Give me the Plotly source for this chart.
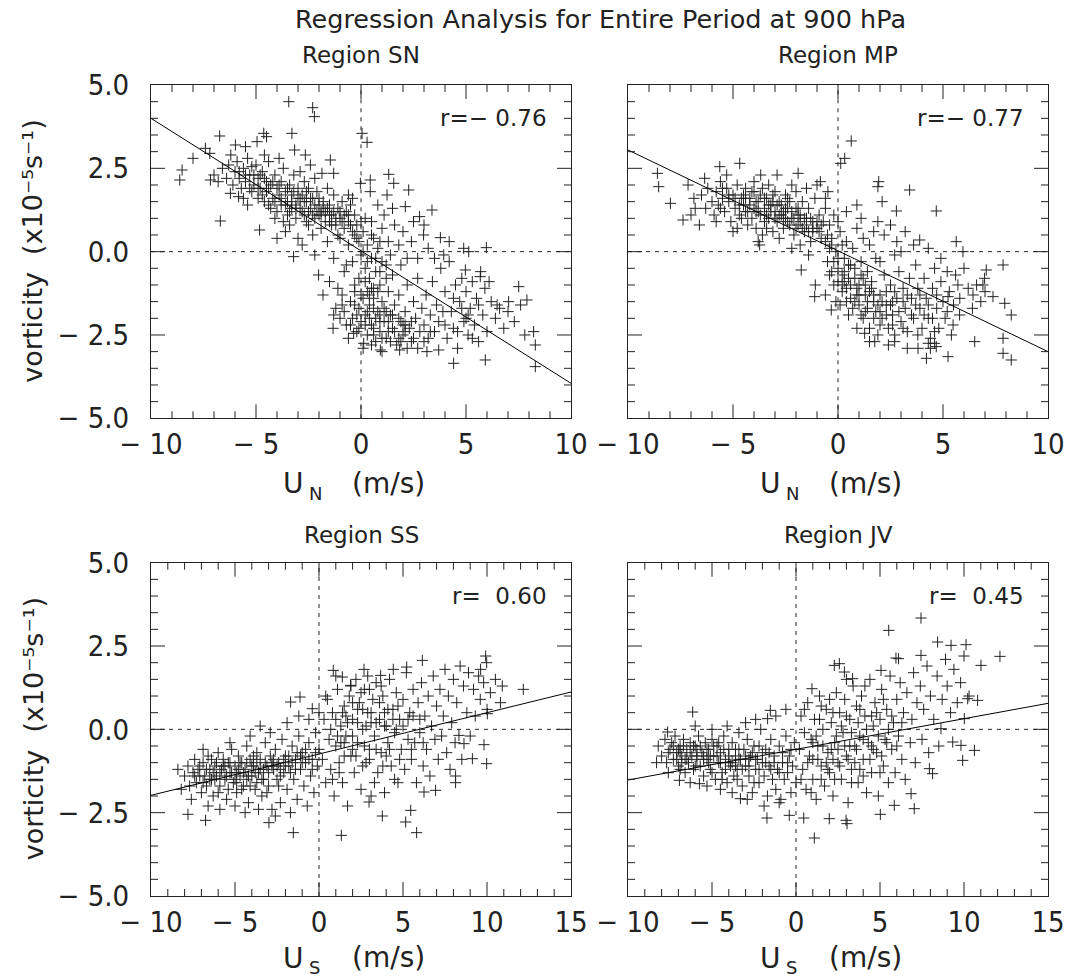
import plotly.graph_objects as go

# ---------------- data ----------------
main_title = "Regression Analysis for Entire Period at 900 hPa"
panel_titles = ["Region SN", "Region MP", "Region SS", "Region JV"]
r_labels = ["r=\u2212 0.76", "r=\u2212 0.77", "r=  0.60", "r=  0.45"]
x_subscripts = ["N", "N", "S", "S"]
x_unit = "(m/s)"
y_title = "vorticity  (x10\u207b\u2075s\u207b\u00b9)"

xn_range = [-10, 10]
xs_range = [-10, 15]
y_range = [-5, 5]
xn_tickvals = [-10, -5, 0, 5, 10]
xn_ticktext = ["\u2212 10", "\u2212 5", "0", "5", "10"]
xs_tickvals = [-10, -5, 0, 5, 10, 15]
xs_ticktext = ["\u2212 10", "\u2212 5", "0", "5", "10", "15"]
y_tickvals = [-5, -2.5, 0, 2.5, 5]
y_ticktext = ["\u2212 5.0", "\u2212 2.5", "0.0", "2.5", "5.0"]
x_minor_step = 1.0
y_minor_step = 0.5

# regression line end points (u, vorticity)
sn_fit_u = [-10, 10]
sn_fit_v = [4.0, -3.95]
mp_fit_u = [-10, 10]
mp_fit_v = [3.05, -3.0]
ss_fit_u = [-10, 15]
ss_fit_v = [-1.98, 1.12]
jv_fit_u = [-10, 15]
jv_fit_v = [-1.52, 0.78]

sn_points = [
    (-3.44,4.5),(-2.3,4.32),(-2.22,4.05),(-3.29,3.55),(0.05,3.55),(0.29,3.28),(-4.63,3.55),(-4.5,3.45),
    (-6.73,3.47),(-7.41,3.1),(-7.2,2.95),(-8.0,2.8),(-8.52,2.45),(-8.63,2.15),(-7.17,2.15),(-7.0,2.3),
    (-6.7,0.92),(-4.83,0.65),(-5.98,3.2),(-5.5,3.15),(-4.95,3.3),(-3.16,3.05),(-2.65,2.9),(-1.46,2.75),
    (-2.41,2.6),(-1.86,2.35),(-1.3,2.35),(-0.03,2.05),(0.44,2.15),(1.32,2.32),(1.56,2.05),(2.27,1.85),
    (0.44,1.8),(1.24,1.7),(2.11,1.35),(3.38,1.25),(2.79,1.05),(3.78,0.42),(2.98,0.5),(4.89,0.1),
    (5.97,0.12),(3.94,-0.1),(5.13,0.0),(4.97,-0.55),(5.68,-0.75),(7.51,-1.05),(7.9,-1.45),(7.03,-1.5),
    (6.48,-1.6),(8.22,-2.4),(8.3,-2.8),(8.3,-3.45),(5.92,-3.25),(4.41,-3.35),(3.14,-3.0),(3.7,-2.95),
    (1.84,-2.95),(0.92,-2.95),(0.13,-2.75),(-0.35,-2.45),(-1.33,-2.3),(-1.81,-1.3),(-2.02,-0.7),
    (-3.21,-0.15),(-4.0,0.4),(-6.22,1.75),(-5.83,1.65),
    (-6.6,2.5),(-6.4,2.2),(-6.3,2.6),(-6.1,2.0),(-6.0,2.4),(-5.9,2.7),(-5.8,2.2),(-5.7,1.9),(-5.6,2.5),
    (-5.5,2.1),(-5.4,2.8),(-5.3,2.3),(-5.2,1.8),(-5.1,2.0),(-5.0,2.6),(-4.9,2.2),(-4.9,1.6),(-4.8,1.9),
    (-4.7,2.4),(-4.6,1.5),(-4.5,2.1),(-4.5,1.8),(-4.4,2.7),(-4.3,1.3),(-4.3,2.0),(-4.2,1.6),(-4.1,2.3),
    (-4.0,1.9),(-4.0,1.2),(-3.9,1.7),(-3.8,2.1),(-3.8,1.4),(-3.7,2.5),(-3.6,1.8),(-3.5,1.1),(-3.5,1.5),
    (-3.4,2.0),(-3.3,1.7),(-3.3,1.3),(-3.2,2.3),(-3.1,1.0),(-3.0,1.6),(-3.0,1.9),(-2.9,1.3),(-2.8,1.7),
    (-2.7,2.1),(-2.7,1.1),(-2.6,1.5),(-2.5,0.8),(-2.5,1.9),(-2.4,1.3),(-2.3,1.6),(-2.2,1.0),(-2.1,1.8),
    (-2.0,1.4),(-2.0,1.1),(-1.9,0.7),(-1.8,1.5),(-1.7,1.2),(-1.6,1.9),(-1.5,0.9),(-1.5,1.4),(-1.4,1.1),
    (-1.3,1.7),(-1.2,0.8),(-1.1,1.3),(-1.0,1.0),(-0.9,1.5),(-0.8,0.7),(-0.7,1.2),(-0.6,0.9),(-0.5,1.4),
    (-0.4,0.6),(-0.3,1.1),(-0.2,0.8),(-4.6,2.9),(-5.2,2.55),(-3.9,2.8),(-2.3,0.5),(-3.0,0.4),(-3.6,0.6),
    (-2.8,0.2),(-2.2,-0.1),(-1.6,0.3),(-1.3,-0.2),(-1.0,0.4),(-0.7,-0.4),(-5.4,1.4),(-4.1,1.0),(-3.4,0.8),
    (-6.8,2.1),(-6.2,2.9),(-5.6,1.6),(-4.4,1.4),(-3.7,0.9),(-2.9,2.4),(-2.2,2.2),(-1.9,1.2),(-1.1,0.5),
    (-0.6,1.7),(-3.1,1.4),(-4.8,2.3),(-5.3,1.9),(-2.6,0.9),
    (-5.8,2.4),(-5.5,2.3),(-5.1,2.3),(-4.9,1.9),(-4.7,1.7),(-4.6,2.2),(-4.4,1.9),(-4.2,2.1),(-4.1,1.5),
    (-3.9,2.0),(-3.8,1.6),(-3.6,1.4),(-3.5,1.9),(-3.4,1.2),(-3.3,1.5),(-3.2,1.8),(-3.1,1.3),(-2.9,1.6),
    (-2.8,1.2),(-2.7,1.5),(-2.6,1.8),(-2.5,1.2),(-2.4,1.6),(-2.3,1.1),(-2.2,1.4),(-2.1,1.2),(-2.0,1.6),
    (-1.9,1.1),(-1.8,1.3),(-1.7,0.9),(-1.6,1.3),(-1.5,1.1),(-1.4,0.8),(-1.3,1.2),(-1.2,1.0),(-1.0,1.2),
    (-0.9,0.9),(-0.8,1.1),(-0.6,1.1),(-0.5,0.8),(-0.3,0.5),(-0.1,0.3),(0.1,0.0),(0.3,-0.3),(0.5,0.5),
    (0.7,-0.2),(0.9,0.3),
    (-0.6,0.2),(-0.4,-0.3),(-0.2,0.4),(0.0,-0.1),(0.1,0.6),(0.2,-0.5),(0.3,0.2),(0.4,-0.8),(0.5,0.9),
    (0.5,-0.2),(0.6,0.4),(0.7,-0.6),(0.8,0.1),(0.9,-1.0),(1.0,0.7),(1.0,-0.3),(1.1,1.1),(1.2,-0.8),
    (1.3,0.3),(1.4,-0.1),(0.2,1.0),(-0.1,-0.8),(0.3,-1.2),(0.6,-1.4),(-0.3,-1.0),(-0.8,-0.6),(1.6,0.8),
    (1.8,0.2),(1.9,-0.4),(2.0,0.6),(2.2,-0.2),(1.5,1.3),(0.8,1.4),(-0.4,1.6),(0.0,0.9),(-1.1,-1.1),
    (-0.9,-1.6),(-1.5,-0.9),
    (-1.0,-2.0),(-0.8,-1.8),(-0.7,-2.2),(-0.5,-1.5),(-0.4,-2.0),(-0.3,-1.2),(-0.2,-2.4),(-0.1,-1.7),
    (0.0,-2.1),(0.1,-1.4),(0.2,-1.9),(0.3,-2.5),(0.4,-1.6),(0.5,-2.2),(0.6,-1.1),(0.7,-2.7),(0.8,-1.8),
    (0.9,-2.4),(1.0,-1.5),(1.1,-2.1),(1.2,-2.6),(1.3,-1.2),(1.4,-1.9),(1.5,-2.3),(1.6,-1.6),(1.7,-2.8),
    (1.8,-1.3),(1.9,-2.1),(2.0,-2.5),(2.1,-1.8),(2.2,-1.0),(2.3,-2.3),(2.4,-2.7),(2.5,-1.5),(2.6,-2.0),
    (2.7,-0.8),(2.8,-2.4),(2.9,-1.7),(3.0,-2.2),(3.1,-1.3),(3.2,-2.6),(3.3,-1.9),(3.4,-0.9),(3.5,-2.4),
    (3.6,-1.6),(3.7,-2.1),(0.1,-2.9),(0.5,-2.8),(1.0,-3.0),(-0.6,-2.6),(-1.2,-1.7),(-1.3,-1.9),
    (-0.9,-1.3),(1.5,-0.7),(1.2,-0.4),(0.9,-0.6),(0.2,-2.2),(0.7,-2.0),(1.3,-2.4),(1.8,-2.6),(0.4,-1.3),
    (1.1,-1.7),(2.1,-2.2),(2.5,-2.6),(-0.2,-1.9),(0.6,-2.5),
    (0.2,-0.9),(0.5,-1.1),(0.8,-1.2),(0.0,-1.3),(-0.3,-1.6),(0.3,-1.8),(0.6,-1.7),(0.9,-1.9),(1.2,-1.8),
    (1.5,-1.9),(1.8,-2.0),(2.1,-2.4),(2.4,-2.1),(0.4,-2.0),(0.9,-2.1),(1.3,-2.1),(1.6,-2.4),(2.0,-2.2),
    (1.0,-2.6),(0.6,-2.3),(-0.1,-2.3),(-0.5,-2.2),(1.4,-2.7),(1.9,-2.7),(2.2,-2.9),(2.7,-2.9),(3.0,-2.7),
    (3.3,-2.4),(4.0,-2.2),(4.6,-2.4),(5.0,-2.0),(5.3,-2.6),(4.8,-1.7),(4.4,-1.4),(3.9,-1.8),(5.6,-1.6),
    (5.1,-1.9),
    (3.8,-0.5),(4.0,-1.2),(4.1,-2.6),(4.2,-0.3),(4.3,-1.8),(4.4,-2.3),(4.5,-1.0),(4.6,-2.9),(4.7,-1.5),
    (4.8,-0.8),(4.9,-2.1),(5.0,-1.2),(5.1,-2.5),(5.2,-1.7),(5.3,-0.9),(5.4,-2.2),(5.5,-1.4),(5.6,-2.7),
    (5.7,-0.6),(5.8,-1.9),(5.9,-1.1),(6.0,-2.4),(6.2,-1.5),(6.4,-2.0),(6.6,-1.7),(6.8,-2.3),(7.0,-1.8),
    (7.3,-2.1),(7.6,-1.6),(7.8,-2.5),(6.1,-0.9),(3.2,0.1),(3.5,-0.2),(4.2,0.3),(2.5,0.9),(2.4,0.3),
    (3.0,0.8),(2.7,-0.2),
]

mp_points = [
    (0.63,3.32),(0.32,2.8),(0.13,2.65),(1.94,2.1),(1.9,1.95),(3.41,1.85),(4.68,1.22),(2.78,1.22),
    (-8.6,2.35),(-8.54,1.95),(-7.98,1.45),(-7.38,0.95),(-7.14,2.0),(-6.86,1.6),(-6.35,2.2),(-5.63,2.55),
    (-4.68,2.65),(-1.9,2.35),(-3.68,2.3),(-0.84,2.1),(-0.48,1.8),(-3.73,0.2),(-1.75,-0.55),(-1.08,-1.0),
    (-1.11,-1.35),(-0.32,-1.75),(1.27,-2.45),(1.75,-2.7),(2.7,-2.7),(3.81,-2.9),(4.21,-3.2),(5.24,-3.15),
    (4.68,-2.85),(6.51,-2.7),(7.86,-2.6),(7.86,-3.05),(8.25,-3.25),(8.25,-1.9),(7.94,-1.55),(7.38,-1.35),
    (7.86,-0.4),(7.06,-0.55),(6.98,-0.8),(6.9,-1.0),(5.63,0.3),(5.95,0.0),(3.89,0.35),(6.43,-1.3),
    (5.71,-1.0),(5.24,-1.35),(5.79,-1.9),(5.48,-2.2),
    (-6.5,1.7),(-6.3,1.3),(-6.2,1.9),(-6.0,1.5),(-5.9,1.1),(-5.8,1.8),(-5.7,1.4),(-5.6,2.1),(-5.5,1.6),
    (-5.4,1.2),(-5.3,1.9),(-5.2,1.5),(-5.1,0.9),(-5.0,1.7),(-4.9,1.3),(-4.8,2.0),(-4.7,1.1),(-4.6,1.6),
    (-4.5,1.4),(-4.4,1.9),(-4.3,0.8),(-4.3,1.2),(-4.2,1.6),(-4.1,1.0),(-4.0,1.8),(-4.0,1.3),(-3.9,0.7),
    (-3.8,1.5),(-3.7,1.1),(-3.6,1.9),(-3.5,1.3),(-3.5,0.9),(-3.4,1.6),(-3.3,1.0),(-3.2,1.4),(-3.1,0.6),
    (-3.0,1.8),(-3.0,1.2),(-2.9,0.9),(-2.8,1.5),(-2.7,1.1),(-2.6,0.7),(-2.5,1.7),(-2.5,1.3),(-2.4,0.9),
    (-2.3,1.5),(-2.2,1.0),(-2.1,0.5),(-2.0,1.3),(-2.0,1.8),(-1.9,0.8),(-1.8,1.1),(-1.7,1.5),(-1.6,0.6),
    (-1.5,1.0),(-1.4,1.3),(-1.3,0.3),(-1.2,0.9),(-1.1,1.6),(-1.0,0.7),(-0.9,1.1),(-0.8,0.4),(-0.7,0.9),
    (-0.6,1.3),(-0.5,0.5),(-0.4,0.8),(-0.3,0.2),(-0.2,1.1),(-5.8,0.9),(-4.8,0.7),(-3.8,0.3),(-2.8,0.4),
    (-2.2,0.1),(-1.8,0.2),(-1.4,-0.1),(-4.0,2.1),(-3.3,2.0),(-2.2,2.0),(-1.5,1.9),(-1.0,2.0),(-0.6,1.6),
    (-6.8,1.3),(-7.0,1.1),(-6.6,0.8),(-5.3,2.3),(-2.9,2.3),(-5.0,0.6),(-3.6,0.5),(-4.6,1.0),(-3.9,1.2),
    (-3.1,1.5),(-2.6,1.0),(-1.9,1.3),(-1.2,0.6),(-4.4,1.6),(-5.6,1.3),(-2.4,1.6),(-3.4,0.7),
    (-5.5,1.9),(-5.2,1.7),(-4.9,1.6),(-4.7,1.4),(-4.5,1.7),(-4.4,1.2),(-4.2,1.4),(-4.1,1.8),(-3.9,1.5),
    (-3.8,1.2),(-3.7,1.7),(-3.5,1.6),(-3.4,1.1),(-3.3,1.4),(-3.2,1.2),(-3.1,1.7),(-3.0,1.0),(-2.9,1.4),
    (-2.8,1.1),(-2.7,1.4),(-2.6,1.2),(-2.5,1.0),(-2.4,1.3),(-2.3,0.8),(-2.2,1.2),(-2.1,1.0),(-2.0,0.7),
    (-1.9,1.1),(-1.8,0.9),(-1.7,0.7),(-1.6,1.0),(-1.5,0.8),(-1.4,0.6),(-1.3,1.0),(-1.2,0.7),(-1.0,0.9),
    (-0.9,0.6),(-0.8,0.8),(-0.6,0.3),(-0.4,0.1),(-0.2,-0.3),(0.0,-0.2),(0.2,0.2),
    (-0.5,-0.3),(-0.4,-0.7),(-0.3,0.4),(-0.2,-1.0),(-0.1,0.0),(0.0,-0.5),(0.1,0.6),(0.2,-1.2),(0.3,-0.2),
    (0.4,0.3),(0.5,-0.8),(0.6,-1.4),(0.7,0.1),(0.8,-0.5),(0.9,0.7),(1.0,-1.0),(1.1,-0.3),(1.2,0.4),
    (1.3,-1.3),(1.4,-0.6),(1.5,0.2),(1.6,-0.9),(1.7,0.6),(1.8,-0.2),(0.0,0.9),(0.4,1.2),(0.9,1.4),
    (1.1,1.0),(-0.6,-1.3),(0.1,-1.6),(0.5,-1.9),(-0.1,-1.5),(0.3,-0.9),(0.7,-1.7),(1.9,0.9),(2.2,0.5),
    (2.5,0.8),(2.1,1.5),(2.8,0.3),(3.2,0.6),(0.2,-0.7),(0.6,-0.4),(0.9,-1.3),(0.4,-1.5),(1.2,-0.8),
    (0.3,-0.6),(0.5,-0.4),(0.6,-1.0),(0.8,-0.8),(0.9,-1.1),(1.1,-0.7),(1.3,-1.0),(1.5,-1.2),(0.2,-1.0),
    (0.4,-1.1),(0.0,-0.9),(-0.3,-0.6),(1.0,-1.3),
    (1.0,-1.6),(1.2,-2.0),(1.4,-1.5),(1.5,-2.3),(1.6,-1.1),(1.8,-1.8),(1.9,-2.5),(2.0,-1.3),(2.1,-2.0),
    (2.2,-0.7),(2.3,-1.6),(2.4,-2.3),(2.5,-1.0),(2.6,-1.9),(2.7,-2.5),(2.8,-1.4),(2.9,-0.6),(3.0,-2.1),
    (3.1,-1.1),(3.2,-1.7),(3.3,-2.4),(3.4,-0.8),(3.5,-1.4),(3.6,-2.0),(3.7,-0.4),(3.8,-1.1),(3.9,-1.7),
    (4.0,-2.3),(4.1,-0.8),(4.2,-1.4),(4.3,-2.0),(4.4,-2.6),(4.5,-1.1),(4.6,-0.5),(4.7,-1.7),(4.8,-2.3),
    (4.9,-0.9),(5.0,-1.5),(5.1,-2.0),(5.2,-0.6),(5.3,-1.2),(5.4,-2.5),(5.5,-1.6),(5.6,-0.7),(5.8,-1.4),
    (6.0,-0.5),(6.2,-1.1),(6.4,-1.7),(6.6,-1.0),(6.8,-1.5),(7.0,-1.2),(4.4,-2.9),(4.3,-2.75),(4.6,-2.75),
    (3.3,-2.9),(2.4,-2.8),(1.5,-2.7),(0.9,-2.3),(2.0,-0.3),(2.7,-0.1),(3.0,0.0),(3.6,0.2),(4.3,0.1),
    (4.9,-0.2),(1.7,-1.5),(2.3,-1.2),(2.0,-1.8),(1.3,-1.8),(2.6,-1.5),
    (1.7,-1.3),(1.9,-1.6),(2.1,-1.5),(2.3,-1.9),(2.5,-1.6),(2.7,-1.2),(2.9,-1.8),(3.1,-1.5),(3.3,-1.3),
    (3.5,-1.9),(3.7,-1.6),(3.9,-1.3),(4.1,-1.9),(4.3,-1.6),(4.5,-2.0),(4.7,-1.3),(2.0,-2.2),(2.6,-2.2),
    (3.1,-2.3),(1.7,-2.0),(1.4,-1.7),(1.1,-1.9),(0.8,-1.5),(3.8,-2.5),(4.6,-2.4),(5.2,-1.8),
]

ss_points = [
    (-7.8,-2.55),(-6.75,-2.73),(-2.98,-2.8),(-1.53,-3.1),(1.33,-3.18),(5.81,-3.1),(5.16,-2.78),(5.46,-2.43),
    (3.77,-2.6),(2.98,-2.18),(-1.69,0.82),(-1.13,0.97),(-0.4,0.62),(0.85,1.77),(1.39,1.57),(1.88,1.32),
    (2.68,1.8),(3.67,1.62),(4.42,1.8),(5.22,1.87),(6.15,2.07),(9.92,2.2),(9.98,2.0),(9.62,1.8),
    (12.16,1.2),(10.91,1.3),(10.02,0.47),(9.82,-0.46),(9.98,-1.03),(9.13,-0.88),(8.13,-1.6),(8.13,-1.4),
    (6.94,-1.83),(6.25,-1.88),(8.63,-0.43),(8.33,-0.18),
    (-8.0,-1.4),(-7.8,-1.1),(-7.7,-1.7),(-7.5,-1.3),(-7.4,-0.9),(-7.3,-1.6),(-7.2,-1.2),(-7.0,-1.9),
    (-6.9,-1.0),(-6.8,-1.4),(-6.7,-1.7),(-6.6,-0.8),(-6.5,-1.2),(-6.4,-1.5),(-6.3,-2.0),(-6.2,-1.1),
    (-6.1,-1.4),(-6.0,-0.7),(-5.9,-1.7),(-5.8,-1.2),(-5.7,-0.9),(-5.6,-1.5),(-5.5,-2.1),(-5.4,-1.0),
    (-5.3,-1.3),(-5.2,-0.6),(-5.1,-1.6),(-5.0,-1.1),(-4.9,-1.9),(-4.8,-0.8),(-4.7,-1.4),(-4.6,-1.0),
    (-4.5,-1.7),(-4.4,-1.2),(-4.3,-0.5),(-4.2,-2.2),(-4.1,-0.9),(-4.0,-1.4),(-3.9,-1.1),(-3.8,-1.8),
    (-3.7,-0.7),(-3.6,-1.3),(-3.5,-0.9),(-3.4,-2.0),(-3.3,-1.5),(-3.2,-0.4),(-3.1,-1.1),(-3.0,-1.7),
    (-2.9,-0.8),(-2.8,-2.4),(-2.7,-1.2),(-2.6,-0.6),(-2.5,-1.5),(-2.4,-1.0),(-2.3,-2.2),(-2.2,-0.3),
    (-2.1,-1.3),(-2.0,-0.8),(-1.9,-1.8),(-1.8,-1.1),(-1.7,-2.5),(-1.6,-0.5),(-1.5,-1.5),(-1.4,-0.9),
    (-1.3,-2.1),(-1.2,-0.2),(-1.1,-1.2),(-1.0,-0.7),(-0.9,-1.7),(-0.8,-1.0),(-0.7,-2.3),(-0.6,-0.4),
    (-0.5,-1.4),(-0.4,-0.9),(-0.3,-1.9),(-0.2,-0.1),(-0.1,-1.1),(0.0,-0.6),(-6.6,-2.3),(-5.9,-2.4),
    (-5.0,-2.3),(-4.4,-2.5),(-3.6,-2.4),(-2.9,-0.1),(-3.5,0.1),(-4.1,-0.2),(-1.9,0.2),(-1.2,0.4),
    (-0.6,0.3),(-2.6,-2.6),(-8.4,-1.2),(-8.2,-1.8),(-7.6,-2.1),(-6.9,-0.6),(-5.3,-0.4),(-6.2,-1.5),
    (-5.6,-1.1),(-4.9,-1.3),(-4.3,-1.5),(-3.9,-0.8),(-3.3,-1.2),(-2.8,-1.0),(-2.3,-1.4),(-1.7,-1.3),
    (-1.1,-0.8),(-7.1,-1.4),(-6.4,-0.9),(-4.6,-1.8),
    (-7.4,-1.4),(-7.1,-1.1),(-6.9,-1.6),(-6.7,-1.2),(-6.5,-1.5),(-6.3,-1.3),(-6.1,-1.0),(-5.9,-1.3),
    (-5.7,-1.1),(-5.5,-1.4),(-5.3,-1.0),(-5.2,-1.3),(-5.0,-1.5),(-4.8,-1.2),(-4.7,-1.0),(-4.5,-1.3),
    (-4.3,-1.0),(-4.2,-1.4),(-4.0,-1.1),(-3.8,-1.3),(-3.7,-1.0),(-3.5,-1.2),(-3.4,-1.5),(-3.2,-1.0),
    (-3.0,-1.3),(-2.8,-1.1),(-2.7,-0.9),(-2.5,-1.1),(-2.3,-1.2),(-2.1,-0.9),(-2.0,-1.1),(-1.8,-0.8),
    (-1.6,-1.0),(-1.4,-1.2),(-1.3,-0.7),(-1.0,-1.0),(-0.8,-0.6),(-0.6,-0.9),(-0.4,-1.2),(-0.2,-0.7),
    (-6.0,-1.9),(-5.4,-1.8),(-4.9,-1.6),(-4.1,-1.7),(-3.7,-1.6),(-3.1,-1.9),(-2.4,-1.7),
    (0.2,-0.9),(0.3,0.3),(0.4,-1.6),(0.5,0.9),(0.6,-0.3),(0.7,-1.2),(0.8,0.5),(0.9,-2.0),(1.0,-0.5),
    (1.1,1.2),(1.2,-1.0),(1.3,0.1),(1.4,-1.6),(1.5,0.7),(1.6,-0.2),(1.7,-2.3),(1.8,1.0),(1.9,-0.8),
    (2.0,0.3),(2.1,-1.3),(2.2,1.5),(2.3,-0.4),(2.4,0.8),(2.5,-1.8),(2.6,0.0),(2.7,1.2),(2.8,-1.0),
    (2.9,0.5),(3.0,-0.6),(3.1,-2.0),(3.2,0.9),(3.3,-0.2),(3.4,1.4),(3.5,-1.3),(3.6,0.3),(3.7,-0.7),
    (3.8,1.0),(3.9,-1.9),(4.0,0.1),(4.1,-0.4),(4.2,1.5),(4.3,-1.1),(4.4,0.6),(4.5,-0.1),(4.6,1.1),
    (4.7,-1.6),(4.8,0.3),(4.9,-0.6),(5.0,0.9),(5.1,-1.2),(5.2,1.7),(5.3,-0.3),(5.4,0.5),(5.5,-0.9),
    (5.6,1.2),(5.7,-0.4),(5.8,-1.6),(5.9,0.8),(6.0,-0.1),(6.1,1.4),(6.2,-1.1),(6.3,0.4),(6.4,-0.6),
    (6.5,1.0),(6.6,-1.4),(6.7,0.1),(6.8,1.6),(6.9,-0.3),(7.0,0.7),(7.1,-0.9),(7.2,1.2),(7.3,-0.2),
    (7.4,0.4),(7.5,1.8),(7.6,-0.7),(7.7,1.0),(7.8,-1.2),(7.9,0.2),(8.0,1.5),(8.1,-0.4),(8.2,0.8),
    (8.4,1.9),(8.5,-0.9),(8.6,1.3),(8.8,0.5),(8.9,1.7),(9.0,-0.2),(9.2,1.2),(9.3,0.4),(9.5,1.6),
    (9.6,0.9),(9.8,1.4),(10.0,0.6),(10.2,1.1),(10.5,1.5),(10.8,0.8),(1.5,-0.8),(2.0,-0.6),(3.0,-0.9),
    (4.0,-0.8),(3.3,-1.6),(2.6,-1.1),(3.8,-1.1),(1.2,-1.3),(0.8,-1.5),(4.5,-1.5),(0.0,0.5),(0.4,1.0),
    (1.0,1.6),(2.9,1.6),(1.6,0.4),(2.3,0.6),(3.1,0.2),(3.9,0.5),(4.6,0.0),(2.0,-0.2),(1.3,-0.4),
    (1.0,0.3),(1.4,0.5),(1.7,0.2),(2.0,0.8),(2.3,0.2),(2.6,0.6),(2.8,0.1),(3.1,0.5),(3.4,0.2),(3.6,0.8),
    (3.9,0.1),(4.1,0.6),(4.4,0.3),(4.7,0.7),(5.0,0.1),(5.3,0.3),(5.6,0.4),(6.0,0.3),(1.5,-0.4),(2.2,-0.8),
    (2.7,-0.5),(3.4,-0.6),(4.2,-0.6),(4.8,-0.9),(5.5,-0.6),(6.2,-0.4),(1.9,1.3),(2.5,1.1),(3.0,1.2),
    (3.7,1.3),(0.7,0.0),(1.1,-0.2),
]

jv_points = [
    (7.44,3.34),(5.52,2.97),(12.14,2.19),(8.43,2.62),(9.23,2.52),(10.12,2.54),(5.95,2.14),(6.1,2.12),
    (7.44,2.22),(11.01,1.92),(2.28,1.92),(2.58,1.97),(3.37,1.52),(2.88,1.72),(5.06,1.77),(0.95,1.22),
    (-6.15,0.52),(-7.64,-0.08),(-1.53,0.57),(-1.69,0.32),(10.62,-0.63),(9.92,-0.93),(9.82,-0.48),
    (8.13,-1.33),(7.94,-1.18),(7.04,-2.38),(6.85,-1.93),(5.85,-2.28),(5.02,-2.55),(2.98,-2.73),
    (3.04,-2.83),(1.98,-2.68),(1.09,-3.26),(0.46,-2.66),(-0.4,-2.58),(-1.73,-2.66),(-3.31,-2.08),
    (-5.75,-1.63),(-6.94,-1.53),(10.22,0.92),(10.81,0.87),(9.33,-0.38),(10.02,0.32),(8.63,0.02),
    (-8.2,-0.5),(-8.0,-0.8),(-7.8,-0.3),(-7.7,-1.0),(-7.5,-0.6),(-7.4,-0.4),(-7.3,-0.9),(-7.2,-0.2),
    (-7.1,-0.7),(-7.0,-1.1),(-6.9,-0.5),(-6.8,-0.8),(-6.7,-0.3),(-6.6,-1.3),(-6.5,-0.6),(-6.4,-1.0),
    (-6.3,-0.4),(-6.2,-0.8),(-6.1,-1.2),(-6.0,-0.5),(-5.9,-0.9),(-5.8,-0.2),(-5.7,-1.1),(-5.6,-0.7),
    (-5.5,-1.4),(-5.4,-0.4),(-5.3,-0.9),(-5.2,-0.6),(-5.1,-1.2),(-5.0,-0.3),(-4.9,-0.8),(-4.8,-1.5),
    (-4.7,-0.5),(-4.6,-1.0),(-4.5,-0.7),(-4.4,-1.3),(-4.3,-0.2),(-4.2,-0.9),(-4.1,-1.6),(-4.0,-0.6),
    (-3.9,-1.1),(-3.8,-0.4),(-3.7,-1.4),(-3.6,-0.8),(-3.5,-1.2),(-3.4,-0.1),(-3.3,-0.9),(-3.2,-1.7),
    (-3.1,-0.6),(-3.0,-1.1),(-2.9,-0.3),(-2.8,-1.4),(-2.7,-0.8),(-2.6,-1.9),(-2.5,-0.5),(-2.4,-1.2),
    (-2.3,-0.9),(-2.2,-1.6),(-2.1,0.0),(-2.0,-1.0),(-1.9,-1.4),(-1.8,-0.6),(-1.7,-2.0),(-1.6,-1.1),
    (-1.5,-0.3),(-1.4,-1.5),(-1.3,-0.8),(-1.2,-1.8),(-1.1,-1.2),(-1.0,-0.5),(-0.9,-2.1),(-0.8,-1.0),
    (-0.7,-1.5),(-0.6,-0.2),(-0.5,-1.3),(-0.4,-0.8),(-0.3,-1.9),(-0.2,-1.1),(-0.1,-0.4),(0.0,-1.6),
    (-3.0,0.2),(-2.4,0.3),(-4.1,0.1),(-5.0,0.0),(-6.0,0.1),(-1.2,0.4),(-0.6,0.6),(-5.3,-1.7),
    (-4.5,-1.8),(-3.8,-1.9),(-2.9,-2.1),(-1.9,-2.3),(-1.0,-2.2),(-6.9,-1.2),(-7.6,-1.3),(-8.3,-1.0),
    (-6.3,-1.6),(-6.6,-0.9),(-5.9,-0.6),(-5.2,-1.0),(-4.6,-0.4),(-4.0,-1.0),(-3.4,-0.6),(-2.8,-0.9),
    (-2.2,-0.5),(-1.6,-0.7),(-7.0,-0.6),(-5.5,-0.8),(-3.6,-1.1),
    (-7.6,-0.7),(-7.3,-0.5),(-7.1,-0.9),(-6.9,-0.7),(-6.7,-0.5),(-6.5,-0.9),(-6.3,-0.7),(-6.1,-0.5),
    (-5.9,-0.8),(-5.7,-0.5),(-5.5,-0.9),(-5.3,-0.6),(-5.1,-0.8),(-4.9,-0.5),(-4.7,-0.8),(-4.5,-1.0),
    (-4.3,-0.6),(-4.2,-1.2),(-4.0,-0.8),(-3.8,-1.0),(-3.6,-0.6),(-3.4,-0.9),(-3.2,-1.2),(-3.0,-0.8),
    (-2.8,-1.1),(-2.6,-0.7),(-2.4,-0.9),(-2.2,-1.2),(-2.0,-0.7),(-1.8,-1.0),(-1.5,-1.2),(-1.3,-1.0),
    (-1.0,-1.3),(-0.8,-0.7),(-0.5,-1.0),(-0.3,-0.6),(-6.8,-1.0),(-6.0,-1.1),(-5.0,-1.3),(-4.4,-1.5),
    (-3.5,-1.5),(-2.5,-1.6),
    (0.2,-0.6),(0.3,0.4),(0.4,-1.2),(0.5,-0.1),(0.6,-1.8),(0.7,0.8),(0.8,-0.8),(0.9,-0.3),(1.0,-1.5),
    (1.1,0.3),(1.2,-2.1),(1.3,-0.5),(1.4,1.0),(1.5,-1.1),(1.6,0.0),(1.7,-1.7),(1.8,0.6),(1.9,-0.7),
    (2.0,-1.3),(2.1,0.2),(2.2,-2.0),(2.3,-0.4),(2.4,1.1),(2.5,-1.0),(2.6,0.5),(2.7,-1.5),(2.8,-0.1),
    (2.9,0.9),(3.0,-0.8),(3.1,-2.2),(3.2,0.3),(3.3,-1.2),(3.4,1.3),(3.5,-0.5),(3.6,0.7),(3.7,-1.6),
    (3.8,-0.2),(3.9,1.0),(4.0,-0.9),(4.1,0.4),(4.2,-1.9),(4.3,-0.4),(4.4,1.5),(4.5,-1.3),(4.6,0.1),
    (4.7,0.8),(4.8,-0.7),(4.9,-2.0),(5.0,0.3),(5.1,1.2),(5.2,-1.1),(5.3,-0.3),(5.4,0.6),(5.5,-1.6),
    (5.6,1.6),(5.7,-0.6),(5.8,0.2),(5.9,-1.3),(6.0,0.9),(6.1,-0.2),(6.2,1.4),(6.3,-0.9),(6.4,0.5),
    (6.5,-1.5),(6.6,1.1),(6.8,-0.4),(6.9,0.3),(7.0,1.7),(7.1,-1.0),(7.2,0.8),(7.4,1.3),(7.5,-0.3),
    (7.6,0.6),(7.8,1.9),(7.9,-0.7),(8.0,1.0),(8.2,0.3),(8.4,1.6),(8.5,-0.5),(8.7,0.9),(8.9,2.1),
    (9.0,1.3),(9.2,0.5),(9.4,1.8),(9.6,0.8),(9.8,1.4),(10.0,2.2),(10.3,1.0),(2.0,0.9),(1.5,0.7),
    (3.0,1.5),(4.1,1.3),(0.5,0.6),(1.0,-0.9),(2.5,-0.6),(3.5,-1.0),(4.5,-0.5),(1.8,-1.0),(3.2,-0.5),
    (2.2,-0.9),(1.2,-0.2),(2.7,0.1),(3.7,0.2),(4.8,0.5),(5.5,0.0),
    (1.0,-0.4),(1.3,-0.9),(1.6,-0.5),(1.9,-1.2),(2.1,-0.6),(2.4,-0.2),(2.6,-1.1),(2.9,-0.5),(3.1,-0.9),
    (3.3,-0.1),(3.6,-0.6),(3.8,-1.2),(4.0,-0.3),(4.2,0.0),(4.4,-0.9),(4.6,-0.6),(4.9,-0.2),(5.1,-0.8),
    (5.4,-0.4),(5.7,0.4),(6.0,-0.5),(1.4,0.3),(2.2,0.5),(3.0,0.4),(3.8,0.6),(4.5,0.4),(5.2,0.9),
    (6.3,0.2),(0.7,-1.0),(1.5,-1.5),(2.3,-1.5),(3.3,-1.6),(4.0,-1.4),(5.0,-1.3),(0.3,-1.5),(0.9,-1.9),
]

fits = [(sn_fit_u, sn_fit_v), (mp_fit_u, mp_fit_v), (ss_fit_u, ss_fit_v), (jv_fit_u, jv_fit_v)]
point_sets = [sn_points, mp_points, ss_points, jv_points]

# ---------------- layout / styling ----------------
W, H = 1067, 978  # page body margin is removed by post_script, so figure == window


def px(x):
    return x / W


def py(y):
    return 1 - y / H


ink = "#222222"
tick_font = dict(family="DejaVu Sans Condensed, Liberation Sans Narrow, sans-serif", size=29, color=ink)
text_font = dict(family="DejaVu Sans, sans-serif", size=23, color=ink)
title_font = dict(family="DejaVu Sans, sans-serif", size=25.5, color=ink)
label_font = dict(family="DejaVu Sans, sans-serif", size=28, color=ink)
sub_font = dict(family="DejaVu Sans, sans-serif", size=18, color=ink)
ylabel_font = dict(family="DejaVu Sans, sans-serif", size=27, color=ink)

panel_px_x = [(151, 571), (628, 1048)]
panel_px_y = [(85, 418.3), (562.7, 896)]
x_dom = [[px(a), px(b)] for a, b in panel_px_x]
y_dom = [[py(b), py(a)] for a, b in panel_px_y]
panel_cx = [361, 838]
MAJOR_LEN, MINOR_LEN = 14, 7  # tick lengths in px


def tick_marks(x_range, x_major, y_major, w_px, h_px):
    """Inside tick marks on all four sides, expressed in axis units."""
    ux = (x_range[1] - x_range[0]) / w_px
    uy = (y_range[1] - y_range[0]) / h_px
    xs, ys = [], []
    nx = int(round((x_range[1] - x_range[0]) / x_minor_step))
    for k in range(1, nx):
        v = x_range[0] + k * x_minor_step
        L = (MAJOR_LEN if any(abs(v - m) < 1e-9 for m in x_major) else MINOR_LEN) * uy
        xs += [v, v, None, v, v, None]
        ys += [y_range[0], y_range[0] + L, None, y_range[1], y_range[1] - L, None]
    ny = int(round((y_range[1] - y_range[0]) / y_minor_step))
    for k in range(1, ny):
        v = y_range[0] + k * y_minor_step
        L = (MAJOR_LEN if any(abs(v - m) < 1e-9 for m in y_major) else MINOR_LEN) * ux
        xs += [x_range[0], x_range[0] + L, None, x_range[1], x_range[1] - L, None]
        ys += [v, v, None, v, v, None]
    return xs, ys


fig = go.Figure()

for i in range(4):
    ax = "" if i == 0 else str(i + 1)
    xref, yref = "x" + ax, "y" + ax
    col, row = i % 2, i // 2
    north = row == 0
    x_range = xn_range if north else xs_range
    x_major = xn_tickvals if north else xs_tickvals
    w_px = panel_px_x[col][1] - panel_px_x[col][0]
    h_px = panel_px_y[row][1] - panel_px_y[row][0]

    # dashed zero lines
    fig.add_trace(go.Scatter(x=[0, 0], y=y_range, mode="lines", xaxis=xref, yaxis=yref,
                             showlegend=False, line=dict(color=ink, width=1, dash="4px,5px")))
    fig.add_trace(go.Scatter(x=x_range, y=[0, 0], mode="lines", xaxis=xref, yaxis=yref,
                             showlegend=False, line=dict(color=ink, width=1, dash="4px,5px")))
    # scatter of values
    pts = point_sets[i]
    fig.add_trace(go.Scatter(
        x=[p[0] for p in pts], y=[p[1] for p in pts], mode="markers",
        xaxis=xref, yaxis=yref, showlegend=False,
        marker=dict(symbol="cross-thin-open", size=8, color=ink, line=dict(width=1, color=ink)),
    ))
    # regression line
    fu, fv = fits[i]
    fig.add_trace(go.Scatter(x=fu, y=fv, mode="lines", xaxis=xref, yaxis=yref, showlegend=False,
                             line=dict(color="black", width=1)))
    # inside tick marks on all four sides
    tx, ty = tick_marks(x_range, x_major, y_tickvals, w_px, h_px)
    fig.add_trace(go.Scatter(x=tx, y=ty, mode="lines", xaxis=xref, yaxis=yref, showlegend=False,
                             hoverinfo="skip", line=dict(color=ink, width=1)))

    xaxis = dict(
        domain=x_dom[col], anchor=yref, range=x_range,
        tickmode="array", tickvals=x_major,
        ticktext=xn_ticktext if north else xs_ticktext,
        ticks="", showline=True, linecolor=ink, linewidth=1, mirror=True,
        showgrid=False, zeroline=False, tickfont=tick_font, ticklabelstandoff=0,
        automargin=False,
    )
    yaxis = dict(
        domain=y_dom[row], anchor=xref, range=y_range,
        tickmode="array", tickvals=y_tickvals, ticktext=y_ticktext,
        ticks="", showline=True, linecolor=ink, linewidth=1, mirror=True,
        showgrid=False, zeroline=False, tickfont=tick_font, ticklabelstandoff=15,
        showticklabels=(col == 0), automargin=False,
    )
    fig.update_layout({"xaxis" + ax: xaxis, "yaxis" + ax: yaxis})

    # correlation label
    fig.add_annotation(xref=xref + " domain", yref=yref + " domain", x=0.947, y=0.9,
                       xanchor="right", yanchor="middle", showarrow=False,
                       text=r_labels[i], font=text_font)
    # panel title
    c = panel_cx[col]
    fig.add_annotation(xref="paper", yref="paper", x=px(c), y=py(55 if north else 535),
                       xanchor="center", yanchor="middle", showarrow=False,
                       text=panel_titles[i], font=text_font)
    # x axis title: U, subscript letter, unit
    ybase = 484 if north else 958
    fig.add_annotation(xref="paper", yref="paper", x=px(c - 55), y=py(ybase),
                       xanchor="right", yanchor="middle", showarrow=False,
                       text="U", font=label_font)
    fig.add_annotation(xref="paper", yref="paper", x=px(c - 54), y=py(ybase + 9),
                       xanchor="left", yanchor="middle", showarrow=False,
                       text=x_subscripts[i], font=sub_font)
    fig.add_annotation(xref="paper", yref="paper", x=px(c + 27), y=py(ybase - 1),
                       xanchor="center", yanchor="middle", showarrow=False,
                       text=x_unit, font=label_font)
    # y axis title
    if col == 0:
        yc = (y_dom[row][0] + y_dom[row][1]) / 2
        fig.add_annotation(xref="paper", yref="paper", x=px(33), y=yc, xanchor="center",
                           yanchor="middle", textangle=-90, showarrow=False,
                           text=y_title, font=ylabel_font)

fig.add_annotation(xref="paper", yref="paper", x=px(600), y=py(19), xanchor="center", yanchor="middle",
                   showarrow=False, text=main_title, font=title_font)

fig.update_layout(
    template="none",
    width=W, height=H, margin=dict(l=0, r=0, t=0, b=0, autoexpand=False),
    paper_bgcolor="white", plot_bgcolor="white", showlegend=False,
)

fig.write_html("out.html",
               config={"displayModeBar": False},
               post_script="document.body.style.margin='0';document.body.style.overflow='hidden';")
